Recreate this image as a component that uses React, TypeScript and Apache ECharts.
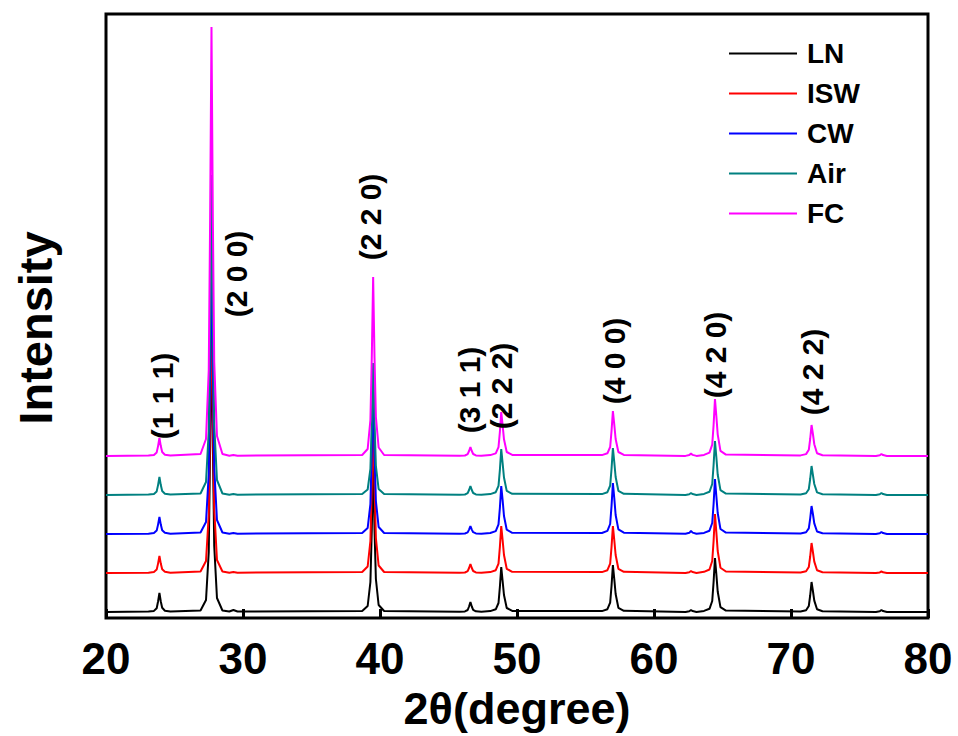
import React, { useEffect, useRef } from "react";
import * as echarts from "echarts";

// 2θ sampling points shared by all five patterns (degrees)
const TWO_THETA = [
  20,
  23.1, 23.5, 23.7, 23.8, 23.9, 24.0, 24.1, 24.3, 24.7,
  26.9, 27.3, 27.5, 27.6, 27.7, 27.8, 27.9, 28.1, 28.5,
  29.0, 29.3, 29.6,
  38.7, 39.1, 39.3, 39.4, 39.5, 39.6, 39.7, 39.9, 40.3,
  45.8, 46.2, 46.4, 46.5, 46.6, 46.7, 46.8, 47.0, 47.4,
  48.05, 48.45, 48.65, 48.75, 48.85, 48.95, 49.05, 49.25, 49.65,
  56.2, 56.6, 56.8, 56.9, 57.0, 57.1, 57.2, 57.4, 57.8,
  62.3, 62.58, 62.7, 62.82, 63.1,
  63.65, 64.05, 64.25, 64.35, 64.45, 64.55, 64.65, 64.85, 65.25,
  70.7, 71.1, 71.3, 71.4, 71.5, 71.6, 71.7, 71.9, 72.3,
  76.2, 76.48, 76.6, 76.72, 77.0,
  80,
];

// Net intensity above each pattern's own background (a.u.)
const LN_COUNTS = [
  0,
  0.4, 1.1, 3.8, 10.5, 19, 10.5, 4.2, 1.3, 0.4,
  1.5, 12, 60, 165, 300, 165, 66, 14, 1.5,
  0.5, 2, 0.5,
  1, 6, 30, 82, 150, 82, 33, 7, 1,
  0.2, 0.6, 2, 5.5, 10, 5.5, 2.2, 0.7, 0.2,
  0.9, 2.7, 9, 25, 45, 31, 17, 4, 1.1,
  0.9, 2.8, 9.4, 26, 47, 33, 18, 4.2, 1.2,
  0.1, 0.8, 2, 0.9, 0.1,
  1.1, 3.2, 11, 30, 54, 38, 20.5, 4.9, 1.4,
  0.6, 1.8, 6, 16.5, 30, 21, 11.4, 2.7, 0.8,
  0.1, 0.8, 2, 0.9, 0.1,
  0,
];

const ISW_COUNTS = [
  0,
  0.3, 1, 3.4, 9.4, 17, 9.4, 3.7, 1.2, 0.3,
  1.5, 12, 58, 160, 290, 160, 64, 13, 1.5,
  0.3, 1, 0.3,
  1, 6.5, 32, 88, 160, 88, 35, 7.5, 1,
  0.2, 0.5, 1.8, 5, 9, 5, 2, 0.6, 0.2,
  0.9, 2.8, 9.4, 26, 47, 33, 18, 4.2, 1.2,
  0.9, 2.8, 9.4, 26, 47, 33, 18, 4.2, 1.2,
  0.1, 0.8, 2, 0.9, 0.1,
  1.2, 3.5, 12, 32, 59, 41, 22, 5.3, 1.5,
  0.6, 1.8, 6, 16.5, 30, 21, 11.4, 2.7, 0.8,
  0.1, 0.6, 1.5, 0.7, 0.1,
  0,
];

const CW_COUNTS = [
  0,
  0.3, 1, 3.4, 9.4, 17, 9.4, 3.7, 1.2, 0.3,
  1.5, 12, 60, 165, 300, 165, 66, 14, 1.5,
  0.3, 1, 0.3,
  1, 6, 30, 82, 150, 82, 33, 7, 1,
  0.2, 0.5, 1.6, 4.4, 8, 4.4, 1.8, 0.6, 0.2,
  1, 2.9, 9.6, 26, 48, 34, 18, 4.3, 1.2,
  1, 3.1, 10, 28, 51, 36, 19, 4.6, 1.3,
  0.2, 1.2, 3, 1.4, 0.2,
  1.1, 3.3, 11, 30, 55, 38, 21, 5, 1.4,
  0.6, 1.7, 5.6, 15.4, 28, 20, 10.6, 2.5, 0.7,
  0.1, 0.8, 2, 0.9, 0.1,
  0,
];

const AIR_COUNTS = [
  0,
  0.4, 1.1, 3.6, 9.9, 18, 9.9, 4, 1.3, 0.4,
  1.5, 13, 64, 176, 320, 176, 70, 15, 1.5,
  0.3, 1, 0.3,
  1, 5.5, 26, 73, 132, 73, 29, 6, 1,
  0.2, 0.5, 1.8, 5, 9, 5, 2, 0.6, 0.2,
  0.9, 2.8, 9.2, 25, 46, 32, 17.5, 4.1, 1.2,
  0.9, 2.8, 9.4, 26, 47, 33, 18, 4.2, 1.2,
  0.1, 0.8, 2, 0.9, 0.1,
  1.1, 3.2, 11, 30, 54, 38, 20.5, 4.9, 1.4,
  0.6, 1.7, 5.8, 16, 29, 20, 11, 2.6, 0.7,
  0.1, 0.8, 2, 0.9, 0.1,
  0,
];

const FC_COUNTS = [
  0,
  0.4, 1.1, 3.6, 9.9, 18, 9.9, 4, 1.3, 0.4,
  2, 17, 86, 236, 429, 236, 94, 20, 2,
  0.3, 1, 0.3,
  1, 7, 36, 98, 179, 98, 39, 8.5, 1,
  0.2, 0.5, 1.8, 5, 9, 5, 2, 0.6, 0.2,
  0.9, 2.6, 8.8, 24, 44, 31, 16.7, 4, 1.1,
  0.9, 2.7, 9, 25, 45, 31.5, 17, 4, 1.1,
  0.1, 1, 2.5, 1.1, 0.1,
  1.1, 3.4, 11.4, 31, 57, 40, 21.7, 5.1, 1.4,
  0.6, 1.9, 6.2, 17, 31, 22, 11.8, 2.8, 0.8,
  0.1, 0.8, 2, 0.9, 0.1,
  0,
];

// Pattern names, vertical stacking offsets and line colours
const SAMPLE_NAMES = ["LN", "ISW", "CW", "Air", "FC"];
const SAMPLE_OFFSETS = [6, 45, 84, 123, 162];
const SAMPLE_COLORS = ["#000000", "#ff0000", "#0000ff", "#008080", "#ff00ff"];
const SAMPLE_COUNTS = [LN_COUNTS, ISW_COUNTS, CW_COUNTS, AIR_COUNTS, FC_COUNTS];

// Miller-index annotations: text, 2θ position and height of the label centre
const HKL_TEXT = ["(1 1 1)", "(2 0 0)", "(2 2 0)", "(3 1 1)", "(2 2 2)", "(4 0 0)", "(4 2 0)", "(4 2 2)"];
const HKL_TWO_THETA = [24.15, 29.5, 39.3, 46.55, 48.9, 57.1, 64.5, 71.6];
const HKL_LEVEL = [222, 344, 401, 228, 232, 257, 263, 246];

const X_TICKS = { min: 20, max: 80, interval: 10 };
const FONT = "'Liberation Sans', Arial, Helvetica, sans-serif";

export default function App() {
  const ref = useRef<HTMLDivElement>(null);

  useEffect(() => {
    if (!ref.current) return;
    const chart = echarts.init(ref.current, null, { renderer: "svg" });

    const lineSeries = SAMPLE_NAMES.map((name, i) => ({
      name,
      type: "line",
      data: TWO_THETA.map((t, k) => [t, SAMPLE_COUNTS[i][k] + SAMPLE_OFFSETS[i]]),
      showSymbol: false,
      symbol: "none",
      smooth: false,
      color: SAMPLE_COLORS[i],
      lineStyle: { color: SAMPLE_COLORS[i], width: 2 },
      silent: true,
      z: 2 + i,
    }));

    const labelSeries = {
      name: "hkl",
      type: "scatter",
      symbolSize: 0,
      silent: true,
      z: 20,
      itemStyle: { opacity: 1, color: "#000" },
      data: HKL_TEXT.map((t, i) => ({ name: t, value: [HKL_TWO_THETA[i], HKL_LEVEL[i]] })),
      label: {
        show: true,
        position: "inside",
        formatter: "{b}",
        rotate: 90,
        color: "#000",
        opacity: 1,
        textBorderWidth: 0,
        fontSize: 30,
        fontWeight: "bold",
        fontFamily: FONT,
      },
    };

    chart.setOption({
      animation: false,
      backgroundColor: "#ffffff",
      grid: {
        left: 106,
        right: 30,
        top: 14,
        bottom: 118,
        outerBoundsMode: "none",
        containLabel: false,
        show: true,
        borderColor: "#000",
        borderWidth: 3,
        backgroundColor: "transparent",
      },
      legend: {
        data: SAMPLE_NAMES,
        orient: "vertical",
        left: 729,
        top: 39,
        padding: 0,
        icon: "rect",
        itemWidth: 68,
        itemHeight: 2,
        itemGap: 11,
        textStyle: {
          color: "#000",
          fontSize: 28,
          fontWeight: "bold",
          fontFamily: FONT,
          lineHeight: 29,
          padding: [0, 0, 0, 5],
        },
      },
      graphic: [
        {
          type: "text",
          x: 35,
          y: 328,
          rotation: Math.PI / 2,
          silent: true,
          style: {
            text: "Intensity",
            fill: "#000",
            font: `bold 47px ${FONT}`,
            align: "center",
            verticalAlign: "middle",
          },
        },
      ],
      xAxis: {
        type: "value",
        min: X_TICKS.min,
        max: X_TICKS.max,
        interval: X_TICKS.interval,
        name: "2θ(degree)",
        nameLocation: "middle",
        nameGap: 68,
        nameTextStyle: {
          color: "#000",
          fontSize: 45,
          lineHeight: 45,
          fontWeight: "bold",
          fontFamily: FONT,
        },
        axisLine: { show: false },
        axisTick: { show: true, inside: true, length: 9, lineStyle: { color: "#000", width: 3 } },
        axisLabel: { color: "#000", fontSize: 44, fontWeight: "bold", fontFamily: FONT, margin: 18 },
        splitLine: { show: false },
      },
      yAxis: {
        type: "value",
        min: 0,
        max: 604,
        axisLine: { show: false },
        axisTick: { show: false },
        axisLabel: { show: false },
        splitLine: { show: false },
      },
      series: [...lineSeries, labelSeries],
    });

    return () => chart.dispose();
  }, []);

  return (
    <div
      ref={ref}
      style={{ position: "fixed", left: 0, top: 0, width: 958, height: 736, background: "#fff" }}
    />
  );
}
